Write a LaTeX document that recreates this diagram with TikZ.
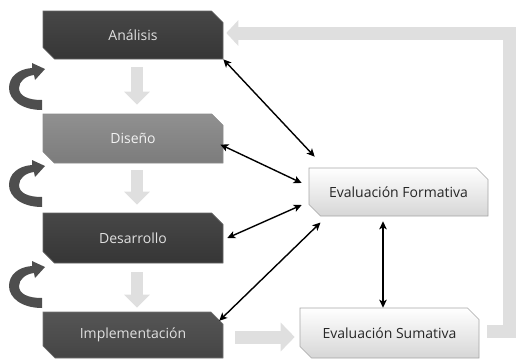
\documentclass[tikz,border=0pt]{standalone}
\usepackage{fontspec}
\setmainfont{Open Sans}
\usetikzlibrary{shapes.misc,arrows.meta,calc}
\definecolor{darkA}{HTML}{474747}
\definecolor{darkB}{HTML}{363636}
\definecolor{midA}{HTML}{909090}
\definecolor{midB}{HTML}{7C7C7C}
\definecolor{impA}{HTML}{555555}
\definecolor{impB}{HTML}{454545}
\definecolor{barg}{HTML}{DFDFDF}
\definecolor{curl}{HTML}{4E4E4E}
\tikzset{
  box/.style={chamfered rectangle, chamfered rectangle corners={north east,south west},
    chamfered rectangle xsep=6pt, chamfered rectangle ysep=6pt,
    inner sep=0pt, minimum width=180pt, minimum height=48pt,
    font=\fontsize{14}{16}\selectfont, line width=0.6pt},
  darkbox/.style={box, draw=black!60, top color=darkA, bottom color=darkB, text=white!88!black},
  midbox/.style={box, draw=black!45, top color=midA, bottom color=midB, text=white!95!black},
  impbox/.style={box, draw=black!55, top color=impA, bottom color=impB, text=white!88!black},
  lightbox/.style={box, draw=black!35, top color=white, bottom color=black!16, text=black!85},
  downarr/.style={draw=barg, line width=12pt, -{Triangle[length=13pt,width=25pt]}},
  sidearr/.style={draw=barg, line width=13pt, -{Triangle[length=14pt,width=28pt]}},
  retarr/.style={draw=barg, line width=13pt, line join=miter, -{Triangle[length=12pt,width=25pt]}},
  dbl/.style={draw=black, line width=1.4pt, {Stealth[length=8pt,width=7.5pt,inset=2pt]}-{Stealth[length=8pt,width=7.5pt,inset=2pt]}},
  curlarrow/.pic={
    \fill[curl] (42,0) -- (42,10)
      .. controls (28,10) and (19,14) .. (19,22)
      .. controls (19,29) and (26,34) .. (34,35)
      -- (35,30) -- (45,41) -- (32,47) -- (32,42)
      .. controls (18,41) and (9,33) .. (9,22)
      .. controls (9,10) and (22,0) .. (42,0) -- cycle;
  }
}
\begin{document}
\begin{tikzpicture}[x=1pt,y=1pt]
\useasboundingbox (0,0) rectangle (516,360);
% boxes
\node[darkbox] (A) at (133,325) {Análisis};
\node[midbox, minimum height=49pt] (Di) at (133,221.5) {Diseño};
\node[darkbox, minimum height=50pt] (De) at (133,122) {Desarrollo};
\node[impbox, minimum height=46pt] (I) at (133,25) {Implementación};
\node[lightbox, minimum width=179pt] (F) at (398.5,168) {Evaluación Formativa};
\node[lightbox, minimum width=179pt, minimum height=50pt] (S) at (389.5,27) {Evaluación Sumativa};
% grey flow arrows
\draw[downarr] ([shift={(4,-8)}]A.south) -- ([shift={(4,9)}]Di.north);
\draw[downarr] ([shift={(4,-7)}]Di.south) -- ([shift={(4,8)}]De.north);
\draw[downarr] ([shift={(4,-9)}]De.south) -- ([shift={(4,4)}]I.north);
\draw[sidearr] ([shift={(12,-2)}]I.east) -- ([shift={(-5,-4)}]S.west);
\coordinate (rc) at (509.5,327);
\draw[retarr] ([shift={(8,2)}]S.east) -| (rc) -- ([shift={(3,2)}]A.east);
% black double arrows
\draw[dbl] (A.south east) -- ([shift={(6,11)}]F.north west);
\draw[dbl] ([shift={(-3,-6)}]Di.east) -- ([shift={(-7,9)}]F.west);
\draw[dbl] ([shift={(4,0)}]De.east) -- ([shift={(-7,-13)}]F.west);
\draw[dbl] ([shift={(2,-3)}]I.north east) -- ([shift={(6,-12)}]F.south west);
\draw[dbl] ([shift={(-15.5,-5)}]F.south) -- ([shift={(-6.5,0)}]S.north);
% curl arrows
\pic at (0,250) {curlarrow};
\pic at (0,153) {curlarrow};
\pic at (0,52) {curlarrow};
\end{tikzpicture}
\end{document}
